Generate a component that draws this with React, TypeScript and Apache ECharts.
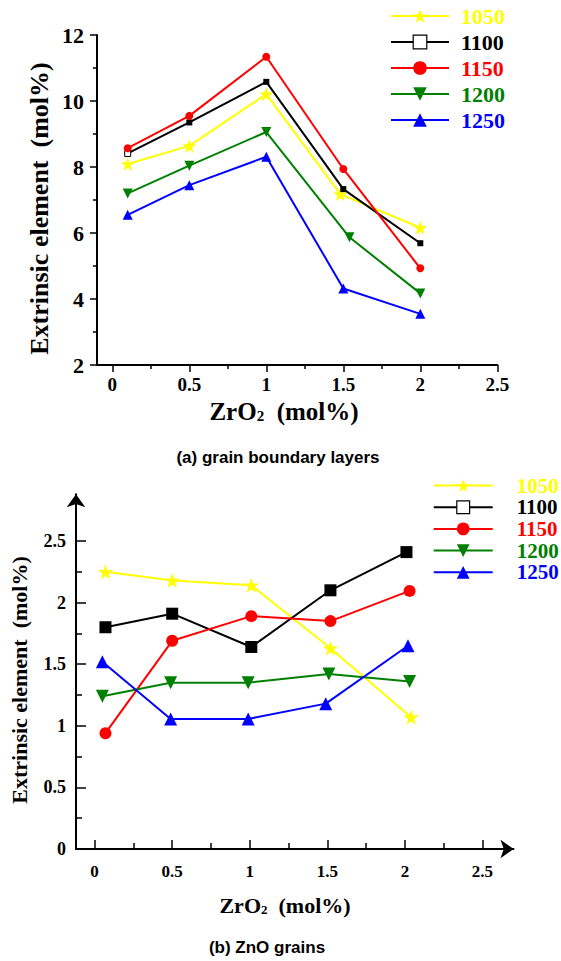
import React, { useEffect, useRef } from "react";
import * as echarts from "echarts";

// Sintering temperatures (legend) and their colours
const temps = ["1050", "1100", "1150", "1200", "1250"];
const colors = ["#FFFF00", "#000000", "#FF0000", "#008000", "#0000FF"];

// (a) grain boundary layers: [ZrO2 (mol%), extrinsic element (mol%)]
const gb1050 = [[0.1, 8.09], [0.5, 8.64], [1.0, 10.21], [1.48, 7.18], [2.0, 6.16]];
const gb1100 = [[0.1, 8.41], [0.5, 9.35], [1.0, 10.58], [1.5, 7.33], [2.0, 5.69]];
const gb1150 = [[0.1, 8.57], [0.5, 9.55], [1.0, 11.34], [1.5, 7.94], [2.0, 4.93]];
const gb1200 = [[0.1, 7.2], [0.5, 8.04], [1.0, 9.06], [1.54, 5.87], [2.0, 4.17]];
const gb1250 = [[0.1, 6.55], [0.5, 7.45], [1.0, 8.31], [1.5, 4.32], [2.0, 3.55]];

// (b) ZnO grains
const zn1050 = [[0.07, 2.25], [0.5, 2.18], [1.01, 2.14], [1.52, 1.63], [2.04, 1.07]];
const zn1100 = [[0.07, 1.8], [0.5, 1.91], [1.01, 1.64], [1.52, 2.1], [2.01, 2.41]];
const zn1150 = [[0.07, 0.94], [0.5, 1.69], [1.01, 1.89], [1.52, 1.85], [2.03, 2.095]];
const zn1200 = [[0.05, 1.24], [0.49, 1.35], [0.99, 1.35], [1.51, 1.42], [2.03, 1.36]];
const zn1250 = [[0.05, 1.52], [0.49, 1.056], [0.99, 1.056], [1.49, 1.18], [2.02, 1.65]];

// Tick values
const xMajorTicks = [0, 0.5, 1, 1.5, 2, 2.5];
const xMinorTicks = [0.25, 0.75, 1.25, 1.75, 2.25];
const yMajorTicksB = [0, 0.5, 1, 1.5, 2, 2.5];
const yMinorTicksB = [0.25, 0.75, 1.25, 1.75, 2.25];

const STAR =
  "path://M0,-10 L2.35,-3.24 L9.51,-3.09 L3.8,1.24 L5.88,8.09 L0,4 L-5.88,8.09 L-3.8,1.24 L-9.51,-3.09 L-2.35,-3.24 Z";

export default function App() {
  const ref = useRef<HTMLDivElement>(null);

  useEffect(() => {
    if (!ref.current) return;
    const chart = echarts.init(ref.current, undefined, { renderer: "svg" });

    const serif = "Liberation Serif";
    const sans = "Liberation Sans";
    const topData = [gb1050, gb1100, gb1150, gb1200, gb1250];
    const botData = [zn1050, zn1100, zn1150, zn1200, zn1250];
    const symbols = [STAR, "rect", "circle", "triangle", "triangle"];
    const rotates = [0, 0, 0, 180, 0];
    const topSizes = [14, 6, 8, 10, 10];
    const botSizes = [15, 12, 12, 13, 13];

    const series: any[] = [];
    topData.forEach((d, i) => {
      series.push({
        type: "line",
        name: temps[i],
        xAxisIndex: 0,
        yAxisIndex: 0,
        data: d.map((p, j) =>
          i === 1 && j === 0
            ? { value: p, itemStyle: { color: "#fff", borderColor: "#000", borderWidth: 1 } }
            : p
        ),
        symbol: symbols[i],
        symbolRotate: rotates[i],
        symbolSize: topSizes[i],
        lineStyle: { color: colors[i], width: 2 },
        itemStyle: { color: colors[i] },
        z: 2 + i,
      });
    });
    botData.forEach((d, i) => {
      series.push({
        type: "line",
        name: temps[i],
        xAxisIndex: 2,
        yAxisIndex: 2,
        data: d,
        symbol: symbols[i],
        symbolRotate: rotates[i],
        symbolSize: botSizes[i],
        lineStyle: { color: colors[i], width: 2 },
        itemStyle: { color: colors[i] },
        z: 2 + i,
      });
    });

    const labelFont = (size: number) => ({
      fontFamily: serif,
      fontWeight: "bold",
      fontSize: size,
      color: "#000",
    });

    const legendData = temps.map((t, i) => {
      const item: any = { name: t, textStyle: { color: colors[i] } };
      if (i === 1) item.itemStyle = { color: "#fff", borderColor: "#000", borderWidth: 1.2 };
      return item;
    });

    const txt = (x: number, y: number, text: string, font: string, rot = 0) => ({
      type: "text",
      x,
      y,
      rotation: rot,
      style: {
        text,
        font,
        fill: "#000",
        textFill: "#000",
        align: "center",
        verticalAlign: "middle",
        textAlign: "center",
        textVerticalAlign: "middle",
      },
    });

    const zrTitle = (x: number, y: number, big: number, small: number) => ({
      type: "text",
      x,
      y,
      style: {
        text: "{a|ZrO}{s|2}{a|  (mol%)}",
        rich: {
          a: { fontFamily: serif, fontWeight: "bold", fontSize: big, fill: "#000", textFill: "#000" },
          s: {
            fontFamily: serif,
            fontWeight: "bold",
            fontSize: small,
            fill: "#000",
            textFill: "#000",
            verticalAlign: "bottom",
            textVerticalAlign: "bottom",
          },
        },
        align: "center",
        verticalAlign: "middle",
        textAlign: "center",
        textVerticalAlign: "middle",
      },
    });

    const option: any = {
      animation: false,
      backgroundColor: "#fff",
      grid: [
        { left: 96.9, top: 35, width: 400.4, height: 330 },
        { left: 76, top: 494.2, width: 437.5, height: 354.8 },
      ],
      xAxis: [
        {
          gridIndex: 0,
          type: "value",
          position: "bottom",
          min: -0.1,
          max: 2.5,
          axisLine: { show: true, onZero: false, lineStyle: { color: "#000", width: 2 } },
          axisTick: { show: true, customValues: xMajorTicks, length: 7, lineStyle: { color: "#000", width: 1.5 } },
          axisLabel: { show: true, customValues: xMajorTicks, margin: 10, ...labelFont(19) },
          splitLine: { show: false },
        },
        {
          gridIndex: 0,
          type: "value",
          position: "bottom",
          min: -0.1,
          max: 2.5,
          axisLine: { show: false, onZero: false },
          axisTick: { show: true, customValues: xMinorTicks, length: 4, lineStyle: { color: "#000", width: 1.5 } },
          axisLabel: { show: false },
          splitLine: { show: false },
        },
        {
          gridIndex: 1,
          type: "value",
          position: "bottom",
          min: -0.12,
          max: 2.7,
          axisLine: {
            show: true,
            onZero: false,
            symbol: ["none", "arrow"],
            symbolSize: [14, 13],
            lineStyle: { color: "#000", width: 2 },
          },
          axisTick: { show: true, inside: true, customValues: xMajorTicks, length: 9, lineStyle: { color: "#000", width: 1.5 } },
          axisLabel: { show: true, customValues: xMajorTicks, margin: 14, ...labelFont(17) },
          splitLine: { show: false },
        },
        {
          gridIndex: 1,
          type: "value",
          position: "bottom",
          min: -0.12,
          max: 2.7,
          axisLine: { show: false, onZero: false },
          axisTick: { show: true, inside: true, customValues: xMinorTicks, length: 6, lineStyle: { color: "#000", width: 1.5 } },
          axisLabel: { show: false },
          splitLine: { show: false },
        },
      ],
      yAxis: [
        {
          gridIndex: 0,
          type: "value",
          position: "left",
          min: 2,
          max: 12,
          interval: 2,
          axisLine: { show: true, onZero: false, lineStyle: { color: "#000", width: 2 } },
          axisTick: { show: true, length: 7, lineStyle: { color: "#000", width: 1.5 } },
          minorTick: { show: true, splitNumber: 2, length: 4, lineStyle: { color: "#000", width: 1.5 } },
          axisLabel: { show: true, margin: 13, ...labelFont(22) },
          splitLine: { show: false },
          minorSplitLine: { show: false },
        },
        {
          gridIndex: 0,
          type: "value",
          position: "left",
          min: 2,
          max: 12,
          show: false,
        },
        {
          gridIndex: 1,
          type: "value",
          position: "left",
          min: 0,
          max: 2.88,
          axisLine: {
            show: true,
            onZero: false,
            symbol: ["none", "arrow"],
            symbolSize: [14, 13],
            lineStyle: { color: "#000", width: 2 },
          },
          axisTick: { show: true, inside: true, customValues: yMajorTicksB, length: 10, lineStyle: { color: "#000", width: 1.5 } },
          axisLabel: { show: true, customValues: yMajorTicksB, margin: 10, ...labelFont(18) },
          splitLine: { show: false },
        },
        {
          gridIndex: 1,
          type: "value",
          position: "left",
          min: 0,
          max: 2.88,
          axisLine: { show: false, onZero: false },
          axisTick: { show: true, inside: true, customValues: yMinorTicksB, length: 6, lineStyle: { color: "#000", width: 1.5 } },
          axisLabel: { show: false },
          splitLine: { show: false },
        },
      ],
      legend: [
        {
          orient: "vertical",
          left: 390,
          top: 5,
          padding: 0,
          itemWidth: 58,
          itemHeight: 17,
          itemGap: 4,
          selectedMode: false,
          data: legendData,
          textStyle: {
            fontFamily: serif,
            fontWeight: "bold",
            fontSize: 22,
            lineHeight: 22,
            padding: [0, 0, 0, 7],
          },
        },
        {
          orient: "vertical",
          left: 432.7,
          top: 475,
          padding: 0,
          itemWidth: 59,
          itemHeight: 16,
          itemGap: 0.7,
          selectedMode: false,
          data: legendData,
          textStyle: {
            fontFamily: serif,
            fontWeight: "bold",
            fontSize: 21,
            lineHeight: 21,
            padding: [0, 0, 0, 19],
          },
        },
      ],
      graphic: [
        txt(39, 208.5, "Extrinsic element  (mol%)", `bold 26px "${serif}"`, Math.PI / 2),
        zrTitle(284, 411, 25, 15),
        txt(278, 457, "(a) grain boundary layers", `bold 17px "${sans}"`),
        txt(19, 680, "Extrinsic element  (mol%)", `bold 22px "${serif}"`, Math.PI / 2),
        zrTitle(285, 905, 22, 13),
        txt(267, 947, "(b) ZnO grains", `bold 17px "${sans}"`),
      ],
      series,
    };

    chart.setOption(option);
    return () => chart.dispose();
  }, []);

  return (
    <div
      ref={ref}
      style={{ position: "absolute", left: 0, top: 0, width: 561, height: 961, background: "#fff" }}
    />
  );
}
